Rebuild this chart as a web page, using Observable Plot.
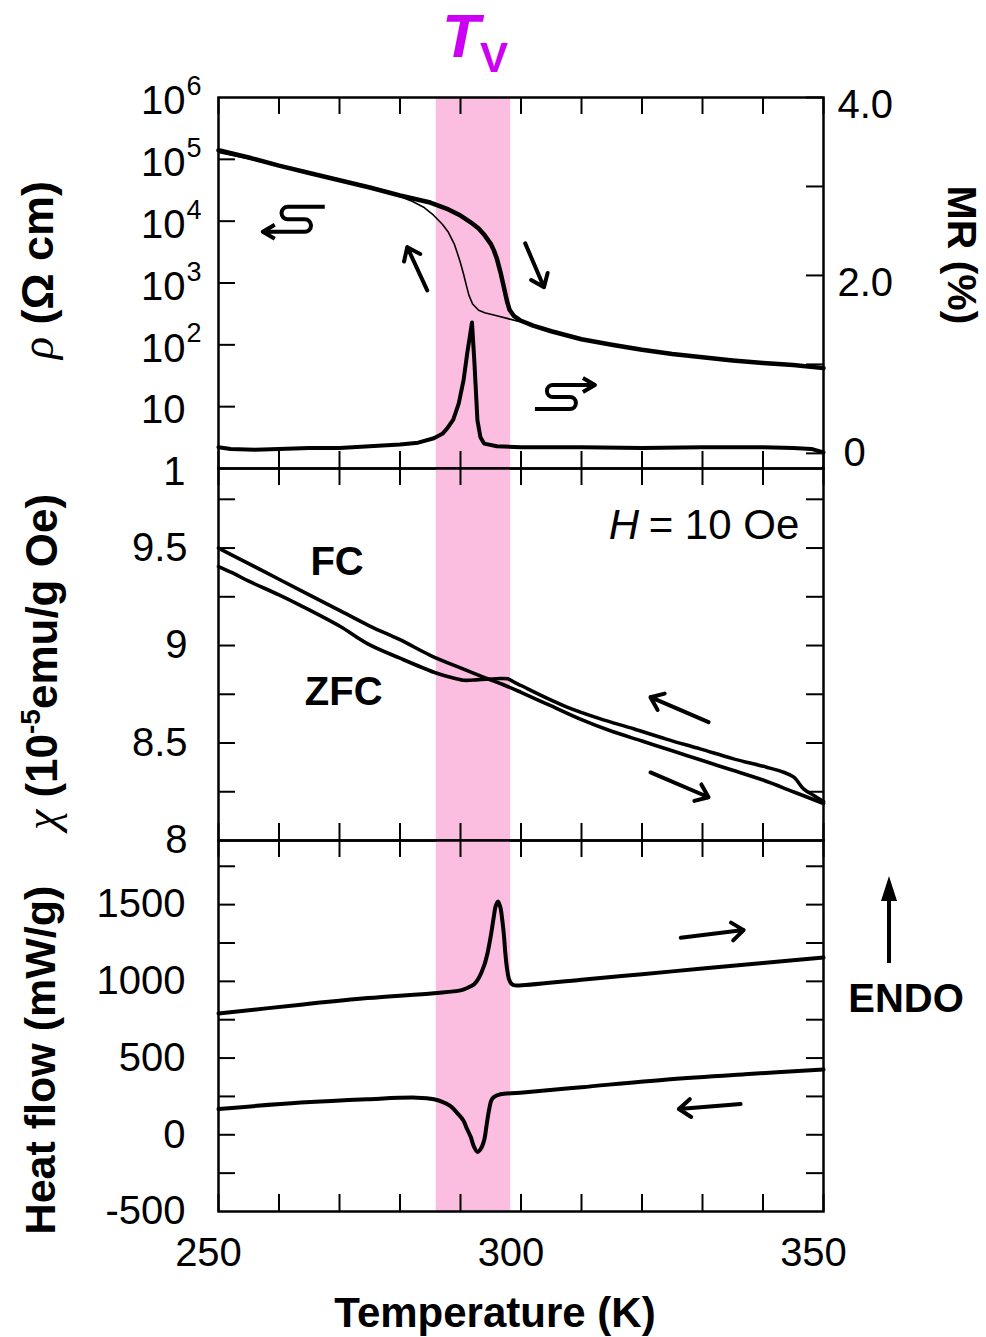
<!DOCTYPE html>
<html>
<head>
<meta charset="utf-8">
<script src="https://cdn.jsdelivr.net/npm/d3@7"></script>
<script src="https://cdn.jsdelivr.net/npm/@observablehq/plot@0.6"></script>
<style>
  body { margin: 0; background: #fff; }
  #fig { position: relative; width: 986px; height: 1337px; overflow: hidden; background: #fff; }
</style>
</head>
<body>
<div id="fig"></div>
<script>
// ---- Resistivity (log) : heating (thick) and cooling (thin) ----
const tempRhoHeat = [250,255,260,265,270,275,280,285,288,290,292,293,294,295,295.5,296,296.6,297.2,297.7,298.1,298.8,300,302,305,310,315,320,325,330,335,340,345,350];
const rhoHeat = [1.4e5,1.07e5,7.9e4,6.0e4,4.6e4,3.5e4,2.6e4,2.0e4,1.55e4,1.23e4,9.1e3,7.6e3,5.9e3,4.3e3,3.4e3,2.5e3,1.5e3,830,500,370,295,245,204,166,123,100,83,71,63,56,51,47,42];
const tempRhoCool = [250,255,260,265,270,275,278,280,282,284,285.5,287,288,289,289.5,290,290.5,291,291.4,292,293,294,296,298,300,302,305,310,320,330,340,350];
const rhoCool = [1.29e5,1.02e5,7.8e4,5.9e4,4.5e4,3.4e4,2.9e4,2.5e4,2.1e4,1.66e4,1.26e4,8.9e3,6.6e3,4.2e3,3.0e3,2.1e3,1.4e3,890,630,457,363,331,295,263,234,204,166,123,83,63,51,42];

// ---- Magnetoresistance (%) ----
const tempMR = [250,252,256,260,265,270,275,280,283,285.6,287,287.8,288.8,289.7,290.5,291.1,291.9,292.3,292.8,293.3,293.9,296,300,310,320,330,340,345,348,350];
const mrValues = [0.07,0.05,0.04,0.05,0.06,0.06,0.08,0.10,0.12,0.17,0.22,0.28,0.38,0.56,0.82,1.12,1.47,1.02,0.37,0.18,0.11,0.08,0.07,0.07,0.06,0.07,0.07,0.06,0.05,0.01];

// ---- Susceptibility (10^-5 emu/g Oe) ----
const tempFC = [250,255,260,265,270,275,280,285,290,294,297,300,305,310,315,320,325,330,335,340,345,350];
const chiFC = [9.50,9.42,9.34,9.26,9.18,9.10,9.03,8.95,8.885,8.835,8.80,8.76,8.69,8.62,8.56,8.51,8.46,8.41,8.36,8.31,8.25,8.19];
const tempZFC = [250,252.5,255,260,263.6,270,274.6,280,285.6,288,290.5,293,296,297.8,299,300,305,307.6,313,318.6,324,329.6,335,340.6,343.4,345.1,346.7,348.4,350];
const chiZFC = [9.405,9.37,9.33,9.26,9.205,9.10,9.01,8.935,8.863,8.84,8.822,8.825,8.83,8.829,8.81,8.795,8.72,8.684,8.625,8.573,8.52,8.47,8.42,8.376,8.35,8.325,8.265,8.231,8.20];

// ---- DSC heat flow (mW/g) ----
const tempHeatUp = [250,263.6,274.6,285.6,290,291,292.3,293,293.9,294.5,295,295.5,295.8,296.2,296.6,296.9,297.2,297.4,297.7,298,298.4,298.8,299.4,310,320,330,340,350];
const hfHeatUp = [790,848,891,923,941,955,983,1020,1102,1190,1295,1420,1488,1521,1480,1402,1290,1188,1080,1016,985,975,973,1011,1047,1083,1119,1155];
const tempHeatDown = [250,263.6,274.6,282.8,285.6,287,288.3,289.5,290.5,291,291.7,292.2,292.8,293.3,293.9,294.3,294.7,295.1,295.5,296.6,299.9,310,324.2,337,350];
const hfHeatDown = [168,210,232,242,232,215,189,140,92,45,-15,-75,-112,-95,-37,60,157,225,245,264,274,310,361,395,425];

// ---- Axes ----
const tempTicks = d3.range(250, 351, 10);
const tempLabels = [250, 300, 350];
const rhoTicks = [10, 100, 1e3, 1e4, 1e5];
const rhoLabels = [
  {v: 1e6, base: "10", exp: "6"}, {v: 1e5, base: "10", exp: "5"}, {v: 1e4, base: "10", exp: "4"},
  {v: 1e3, base: "10", exp: "3"}, {v: 1e2, base: "10", exp: "2"}, {v: 10, base: "10", exp: ""},
  {v: 1, base: "1", exp: ""}
];
const mrTicks = [0, 1, 2, 3, 4];
const mrLabels = [2, 4];
const chiTicks = [8.25, 8.5, 8.75, 9, 9.25, 9.5, 9.75];
const chiLabels = [8, 8.5, 9, 9.5];
const hfTicks = [-250, 0, 250, 500, 750, 1000, 1250, 1500, 1750];
const hfLabels = [-500, 0, 500, 1000, 1500];

// Verwey transition window
const band = [{t1: 286.0, t2: 298.3}];

// Direction arrows
const rhoArrows = [{t1: 284.5, v1: 760, t2: 281.2, v2: 3800}, {t1: 300.7, v1: 4370, t2: 303.8, v2: 855}];
const chiArrows = [{t1: 331.0, v1: 8.607, t2: 321.4, v2: 8.735}, {t1: 321.4, v1: 8.349, t2: 331.0, v2: 8.222}];
const hfArrows = [{t1: 326.4, v1: 1284, t2: 336.8, v2: 1334}, {t1: 336.3, v1: 200, t2: 326.1, v2: 168}];
// Axis-indicator hooks (tip position)
const hookArrows = [{t: 257.4, v: 6600, dir: "left"}, {t: 312.3, v: 22, dir: "right"}];

const FONT = "'Liberation Sans', Arial, Helvetica, sans-serif";
const PINK = "#fbbde0";
const TICK = 17, FW = 605;
const W = 986, ML = 218, MRG = 163;

const pts = (ts, vs) => ts.map((t, i) => ({t, v: vs[i]}));
const fig = document.getElementById("fig");
function mount(svg, top) {
  svg.style.position = "absolute";
  svg.style.left = "0px";
  svg.style.top = top + "px";
  fig.appendChild(svg);
}
const baseStyle = {fontFamily: FONT, fontSize: "40px", overflow: "visible", background: "transparent", color: "black"};
const X = {domain: [250, 350], axis: null};

function xTicks(fh) {
  return [
    Plot.ruleX(tempTicks, {insetBottom: fh - TICK, stroke: "black", strokeWidth: 2}),
    Plot.ruleX(tempTicks, {insetTop: fh - TICK, stroke: "black", strokeWidth: 2})
  ];
}
function yTicks(vals, side) {
  return side === "left"
    ? Plot.ruleY(vals, {insetRight: FW - TICK, stroke: "black", strokeWidth: 2})
    : Plot.ruleY(vals, {insetLeft: FW - TICK, stroke: "black", strokeWidth: 2});
}
const arrowOpts = {x1: "t1", y1: "v1", x2: "t2", y2: "v2", stroke: "black", strokeWidth: 4, headLength: 5.5, headAngle: 75};

// Hook-shaped indicators telling which axis a curve belongs to
const hookPaths = {
  left: "M62,-25 L25,-25 A6.25,6.25 0 0 0 25,-12.5 L42,-12.5 A6.25,6.25 0 0 1 42,0 L0,0 M12,-7 L0,0 L12,7",
  right: "M-60,24 L-25,24 A6,6 0 0 0 -25,12 L-42,12 A6,6 0 0 1 -42,0 L0,0 M-12,-7 L0,0 L-12,7"
};
function hooks(data) {
  return (index, scales) => {
    const g = d3.create("svg:g").attr("fill", "none").attr("stroke", "black")
      .attr("stroke-width", 4).attr("stroke-linejoin", "round");
    for (const d of data) {
      g.append("path")
        .attr("transform", `translate(${scales.x(d.t)},${scales.y(d.v)})`)
        .attr("d", hookPaths[d.dir]);
    }
    return g.node();
  };
}

// ---- Panel 1: resistivity ----
const FH1 = 371;
const p1 = Plot.plot({
  width: W, height: 468, marginTop: 97, marginBottom: 0, marginLeft: ML, marginRight: MRG,
  x: X, y: {type: "log", domain: [1, 1e6], axis: null},
  style: baseStyle,
  marks: [
    Plot.rect(band, {x1: "t1", x2: "t2", fill: PINK}),
    Plot.line(pts(tempRhoCool, rhoCool), {x: "t", y: "v", stroke: "black", strokeWidth: 1.6}),
    Plot.line(pts(tempRhoHeat, rhoHeat), {x: "t", y: "v", stroke: "black", strokeWidth: 4.5}),
    Plot.arrow(rhoArrows, arrowOpts),
    hooks(hookArrows),
    ...xTicks(FH1),
    yTicks(rhoTicks, "left"),
    Plot.text(rhoLabels, {y: "v", text: "base", frameAnchor: "left", dx: -33, dy: 4, textAnchor: "end", lineAnchor: "middle", fontSize: 40}),
    Plot.text(rhoLabels, {y: "v", text: "exp", frameAnchor: "left", dx: -32, dy: -11, textAnchor: "start", lineAnchor: "middle", fontSize: 27}),
    Plot.frame({stroke: "black", strokeWidth: 2.5})
  ]
});
mount(p1, 0);

// ---- Panel 1 (overlay): magnetoresistance on the right axis ----
const p1b = Plot.plot({
  width: W, height: 468, marginTop: 97, marginBottom: 0, marginLeft: ML, marginRight: MRG,
  x: X, y: {domain: [-0.17, 4.0], axis: null},
  style: baseStyle,
  marks: [
    Plot.line(pts(tempMR, mrValues), {x: "t", y: "v", stroke: "black", strokeWidth: 4}),
    yTicks(mrTicks, "right"),
    Plot.text(mrLabels, {y: d => d, text: d => d.toFixed(1), frameAnchor: "right", dx: 14, dy: 8, textAnchor: "start", lineAnchor: "middle", fontSize: 40}),
    Plot.text([0], {y: d => d, text: d => String(d), frameAnchor: "right", dx: 20, textAnchor: "start", lineAnchor: "middle", fontSize: 40})
  ]
});
mount(p1b, 0);

// ---- Panel 2: susceptibility ----
const FH2 = 372;
const p2 = Plot.plot({
  width: W, height: 372, marginTop: 0, marginBottom: 0, marginLeft: ML, marginRight: MRG,
  x: X, y: {domain: [8, 9.908], axis: null},
  style: baseStyle,
  marks: [
    Plot.rect(band, {x1: "t1", x2: "t2", fill: PINK}),
    Plot.line(pts(tempFC, chiFC), {x: "t", y: "v", stroke: "black", strokeWidth: 3.6, curve: "catmull-rom"}),
    Plot.line(pts(tempZFC, chiZFC), {x: "t", y: "v", stroke: "black", strokeWidth: 3.6, curve: "catmull-rom"}),
    Plot.arrow(chiArrows, arrowOpts),
    Plot.text(["FC"], {x: 269.6, y: 9.426, text: d => d, fontSize: 40, fontWeight: "bold"}),
    Plot.text(["ZFC"], {x: 270.7, y: 8.759, text: d => d, fontSize: 40, fontWeight: "bold"}),
    Plot.text(["H"], {x: 314.5, y: 9.615, text: d => d, fontSize: 42, fontStyle: "italic", textAnchor: "start"}),
    Plot.text(["= 10 Oe"], {x: 321.1, y: 9.615, text: d => d, fontSize: 42, textAnchor: "start"}),
    ...xTicks(FH2),
    yTicks(chiTicks, "left"),
    yTicks(chiTicks, "right"),
    Plot.text(chiLabels, {y: d => d, text: d => String(d), frameAnchor: "left", dx: -31, textAnchor: "end", lineAnchor: "middle", fontSize: 40}),
    Plot.frame({stroke: "black", strokeWidth: 2.5})
  ]
});
mount(p2, 468);

// ---- Panel 3: heat flow ----
const FH3 = 371;
const p3 = Plot.plot({
  width: W, height: 497, marginTop: 0, marginBottom: 126, marginLeft: ML, marginRight: MRG,
  x: X, y: {domain: [-500, 1918], axis: null},
  style: baseStyle,
  marks: [
    Plot.rect(band, {x1: "t1", x2: "t2", fill: PINK}),
    Plot.line(pts(tempHeatUp, hfHeatUp), {x: "t", y: "v", stroke: "black", strokeWidth: 4, curve: "catmull-rom"}),
    Plot.line(pts(tempHeatDown, hfHeatDown), {x: "t", y: "v", stroke: "black", strokeWidth: 4, curve: "catmull-rom"}),
    Plot.arrow(hfArrows, arrowOpts),
    ...xTicks(FH3),
    yTicks(hfTicks, "left"),
    yTicks(hfTicks, "right"),
    Plot.text(hfLabels, {y: d => d, text: d => String(d), frameAnchor: "left", dx: -33, textAnchor: "end", lineAnchor: "middle", fontSize: 40}),
    Plot.text(tempLabels, {x: d => d, text: d => String(d), frameAnchor: "bottom", dy: 42, dx: -10, lineAnchor: "middle", fontSize: 40}),
    Plot.frame({stroke: "black", strokeWidth: 2.5})
  ]
});
mount(p3, 840);

// ---- Titles, axis names and the ENDO marker ----
const ov = d3.create("svg").attr("width", W).attr("height", 1337).attr("font-family", FONT)
  .style("position", "absolute").style("left", "0px").style("top", "0px").style("overflow", "visible");

const tv = ov.append("text").attr("x", 442).attr("y", 57).attr("fill", "#cc00f2").attr("font-weight", "bold");
tv.append("tspan").attr("font-style", "italic").attr("font-size", 62).text("T");
tv.append("tspan").attr("font-size", 42).attr("dx", 0).attr("dy", 15).text("V");

function vlabel(x, y, angle, parts) {
  const t = ov.append("text").attr("transform", `translate(${x},${y}) rotate(${angle})`).attr("text-anchor", "middle");
  for (const p of parts) {
    const s = t.append("tspan").text(p.text);
    for (const [k, v] of Object.entries(p.attrs || {})) s.attr(k, v);
  }
}
const serifItalic = {"font-family": "'Liberation Serif', 'DejaVu Serif', serif", "font-style": "italic"};
vlabel(53, 270, -90, [
  {text: "ρ", attrs: {...serifItalic, "font-size": 46}},
  {text: "\u00a0(Ω cm)", attrs: {"font-weight": "bold", "font-size": 45}}
]);
vlabel(57, 662, -90, [
  {text: "χ", attrs: {...serifItalic, "font-size": 46}},
  {text: "\u00a0(10", attrs: {"font-weight": "bold", "font-size": 44}},
  {text: "-5", attrs: {"font-weight": "bold", "font-size": 28, "dy": -17}},
  {text: "emu/g Oe)", attrs: {"font-weight": "bold", "font-size": 44, "dy": 17}}
]);
vlabel(55, 1060, -90, [
  {text: "Heat flow (mW/g)", attrs: {"font-weight": "bold", "font-size": 43}}
]);
vlabel(948, 255, 90, [
  {text: "MR (%)", attrs: {"font-weight": "bold", "font-size": 41}}
]);

ov.append("text").attr("x", 495).attr("y", 1327).attr("text-anchor", "middle")
  .attr("font-weight", "bold").attr("font-size", 42).text("Temperature (K)");

ov.append("text").attr("x", 906).attr("y", 1012).attr("text-anchor", "middle")
  .attr("font-weight", "bold").attr("font-size", 40).text("ENDO");
ov.append("line").attr("x1", 889).attr("y1", 963).attr("x2", 889).attr("y2", 898)
  .attr("stroke", "black").attr("stroke-width", 4);
ov.append("path").attr("d", "M889,876 L881,901 L897,901 Z").attr("fill", "black");

fig.appendChild(ov.node());
</script>
</body>
</html>
